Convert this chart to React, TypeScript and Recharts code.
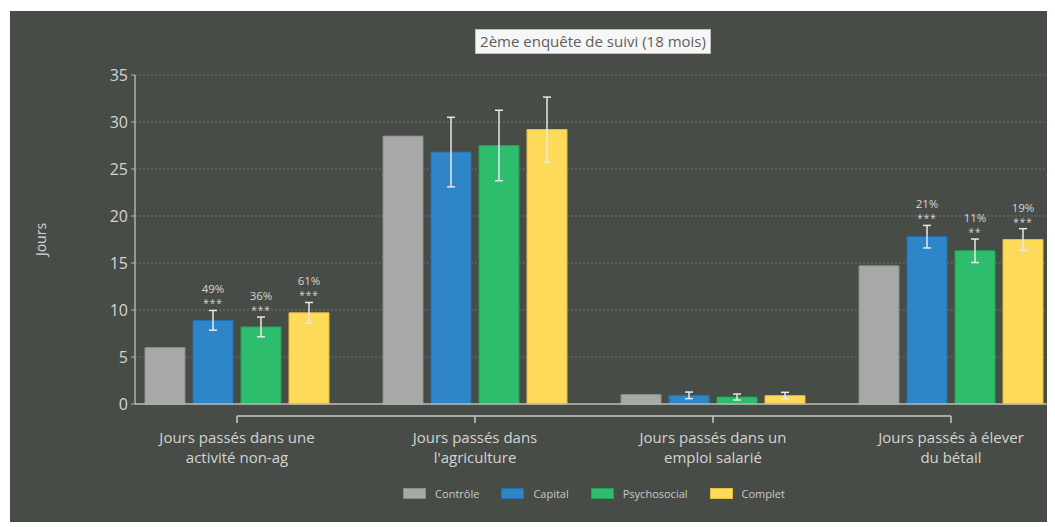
import React from "react";
import { Bar, BarChart, CartesianGrid, ErrorBar, Label, LabelList, Legend, ReferenceLine, XAxis, YAxis } from "recharts";

const categories = [
  "Jours passés dans une\nactivité non-ag",
  "Jours passés dans\nl'agriculture",
  "Jours passés dans un\nemploi salarié",
  "Jours passés à élever\ndu bétail",
];

const controle = [6.0, 28.5, 1.0, 14.7];
const capital = [8.9, 26.8, 0.92, 17.8];
const capitalErr = [1.05, 3.7, 0.35, 1.2];
const psychosocial = [8.2, 27.5, 0.74, 16.3];
const psychosocialErr = [1.05, 3.75, 0.32, 1.25];
const complet = [9.7, 29.2, 0.89, 17.5];
const completErr = [1.1, 3.45, 0.35, 1.15];

const capitalPct = ["49%", "", "", "21%"];
const capitalSig = ["***", "", "", "***"];
const psychosocialPct = ["36%", "", "", "11%"];
const psychosocialSig = ["***", "", "", "**"];
const completPct = ["61%", "", "", "19%"];
const completSig = ["***", "", "", "***"];

const yTicks = [0, 5, 10, 15, 20, 25, 30, 35];

const series = [
  { key: "controle", name: "Contrôle", fill: "#a8a8a8", stroke: "#8c8c8c" },
  { key: "capital", name: "Capital", fill: "#2e86c8", stroke: "#2470ad" },
  { key: "psychosocial", name: "Psychosocial", fill: "#2ebd6c", stroke: "#23a058" },
  { key: "complet", name: "Complet", fill: "#fdda5a", stroke: "#e3be3e" },
];

const data = categories.map((name, i) => ({
  name,
  controle: controle[i],
  capital: capital[i],
  capitalErr: capitalErr[i],
  psychosocial: psychosocial[i],
  psychosocialErr: psychosocialErr[i],
  complet: complet[i],
  completErr: completErr[i],
}));

const textColor = "#d4d4d4";

// label above the error bar: percentage on top, stars below it
const makeSigLabel = (values: number[], errs: number[], pct: string[], sig: string[]) => (props: any) => {
  const { x, y, width, height, index } = props;
  if (index == null || !pct[index]) return null;
  const pxPerUnit = height / values[index];
  const top = y - errs[index] * pxPerUnit;
  const cx = x + width / 2;
  return (
    <g>
      <text x={cx} y={top - 17} textAnchor="middle" fill={textColor} fontSize={11.5}>
        {pct[index]}
      </text>
      <text x={cx} y={top - 3} textAnchor="middle" fill={textColor} fontSize={10} letterSpacing={1}>
        {sig[index]}
      </text>
    </g>
  );
};

const CategoryTick = (props: any) => {
  const { x, y, payload } = props;
  const lines = String(payload.value).split("\n");
  return (
    <g>
      <line x1={x} y1={y + 12} x2={x} y2={y + 19} stroke="#c8c8c8" strokeWidth={1.5} />
      {lines.map((line, i) => (
        <text key={i} x={x} y={y + 39 + i * 20} textAnchor="middle" fill={textColor} fontSize={15}>
          {line}
        </text>
      ))}
    </g>
  );
};

const renderLegend = () => (
  <div style={{ display: "flex", justifyContent: "center", alignItems: "center", height: 14 }}>
    {series.map((s, i) => (
      <div key={s.key} style={{ display: "flex", alignItems: "center", marginLeft: i ? 22 : 0 }}>
        <span
          style={{
            width: 23,
            height: 11,
            background: s.fill,
            border: `1px solid ${s.stroke}`,
            boxSizing: "border-box",
            marginRight: 9,
          }}
        />
        <span style={{ fontSize: 11, color: "#c8c8c8" }}>{s.name}</span>
      </div>
    ))}
  </div>
);

export default function App() {
  return (
    <div
      style={{
        position: "relative",
        top: 3,
        left: 2,
        width: 1043,
        height: 514,
        background: "#484c46",
        fontFamily: "'Open Sans', sans-serif",
      }}
    >
      <div
        style={{
          position: "absolute",
          left: 465,
          top: 18,
          width: 236,
          height: 25,
          boxSizing: "border-box",
          background: "#f6f6f6",
          border: "1px solid #bdbdbd",
          color: "#5e5e5e",
          fontSize: 15,
          lineHeight: "23px",
          textAlign: "center",
          zIndex: 2,
        }}
      >
        2ème enquête de suivi (18 mois)
      </div>
      <BarChart
        width={1043}
        height={514}
        data={data}
        margin={{ top: 64, right: 3, left: 0, bottom: 61 }}
        barSize={40}
        barGap={8}
      >
        <CartesianGrid vertical={false} stroke="#727272" strokeDasharray="2 2" />
        <XAxis
          dataKey="name"
          height={60}
          padding={{ left: -17, right: -20 }}
          axisLine={{ stroke: "#b8b8b8", strokeWidth: 1.5 }}
          tickLine={false}
          tickSize={0}
          tickMargin={0}
          tick={<CategoryTick />}
          interval={0}
        />
        <YAxis
          width={125}
          domain={[0, 35]}
          ticks={yTicks}
          tickSize={4}
          tickMargin={3}
          axisLine={{ stroke: "#b0b0b0", strokeWidth: 1.5 }}
          tickLine={{ stroke: "#b0b0b0" }}
          tick={{ fill: textColor, fontSize: 16 }}
        >
          <Label
            content={(props: any) => {
              const vb = props.viewBox;
              const cx = vb.x + 30;
              const cy = vb.y + vb.height / 2;
              return (
                <text x={cx} y={cy} transform={`rotate(-90 ${cx} ${cy})`} textAnchor="middle" dominantBaseline="central" fill={textColor} fontSize={14}>
                  Jours
                </text>
              );
            }}
          />
        </YAxis>
        <ReferenceLine
          segment={[
            { x: categories[0], y: -1.28 },
            { x: categories[categories.length - 1], y: -1.28 },
          ]}
          stroke="#c8c8c8"
          strokeWidth={1.5}
          ifOverflow="visible"
        />
        <Legend
          verticalAlign="middle"
          align="center"
          layout="horizontal"
          content={renderLegend}
          wrapperStyle={{ top: 475, left: 125, width: 918 }}
        />
        <Bar dataKey="controle" name="Contrôle" fill={series[0].fill} stroke={series[0].stroke} isAnimationActive={false} />
        <Bar dataKey="capital" name="Capital" fill={series[1].fill} stroke={series[1].stroke} isAnimationActive={false}>
          <ErrorBar dataKey="capitalErr" width={4} stroke="#e8e8e8" strokeWidth={1.5} />
          <LabelList dataKey="capital" content={makeSigLabel(capital, capitalErr, capitalPct, capitalSig)} />
        </Bar>
        <Bar dataKey="psychosocial" name="Psychosocial" fill={series[2].fill} stroke={series[2].stroke} isAnimationActive={false}>
          <ErrorBar dataKey="psychosocialErr" width={4} stroke="#e8e8e8" strokeWidth={1.5} />
          <LabelList dataKey="psychosocial" content={makeSigLabel(psychosocial, psychosocialErr, psychosocialPct, psychosocialSig)} />
        </Bar>
        <Bar dataKey="complet" name="Complet" fill={series[3].fill} stroke={series[3].stroke} isAnimationActive={false}>
          <ErrorBar dataKey="completErr" width={4} stroke="#e8e8e8" strokeWidth={1.5} />
          <LabelList dataKey="complet" content={makeSigLabel(complet, completErr, completPct, completSig)} />
        </Bar>
      </BarChart>
    </div>
  );
}
